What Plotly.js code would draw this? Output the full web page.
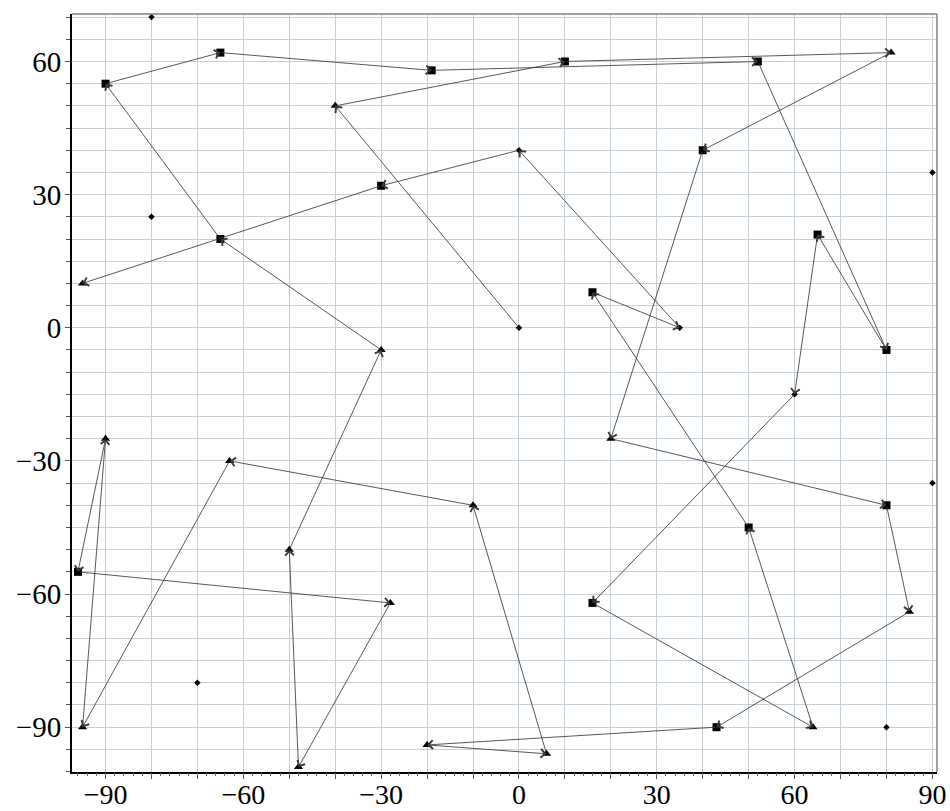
<!DOCTYPE html>
<html>
<head>
<meta charset="utf-8">
<script src="https://cdn.plot.ly/plotly-3.0.1.min.js"></script>
<style>html,body{margin:0;padding:0;background:#fff;}#chart{width:950px;height:811px;}</style>
</head>
<body>
<div id="chart"></div>
<script>
// Path of the walk: node coordinates in visiting order
var pathX = [0, -40, 10, 81, 40, 20, 80, 85, 43, -20, 6, -10, -63, -95, -90, -96, -28, -48, -50, -30, -65, -90, -65, -19, 52, 80, 65, 60, 16, 64, 50, 16, 35, 0, -30, -95];
var pathY = [0, 50, 60, 62, 40, -25, -40, -64, -90, -94, -96, -40, -30, -90, -25, -55, -62, -99, -50, -5, 20, 55, 62, 58, 60, -5, 21, -15, -62, -90, -45, 8, 0, 40, 32, 10];
var pathKind = ["diamond", "triangle", "square", "triangle", "square", "triangle", "square", "triangle", "square", "triangle",
                "triangle", "triangle", "triangle", "triangle", "triangle", "square", "triangle", "triangle", "triangle", "triangle",
                "square", "square", "square", "square", "square", "square", "square", "diamond", "square", "triangle",
                "square", "square", "diamond", "diamond", "square", "triangle"];
// Isolated points
var loneX = [-80, -80, 90, 90, -70, 80];
var loneY = [70, 25, 35, -35, -80, -90];

var xTicks = [-90, -60, -30, 0, 30, 60, 90];
var yTicks = [-90, -60, -30, 0, 30, 60];

var symMap = {square: "square", triangle: "triangle-up", diamond: "diamond"};
var sizeMap = {square: 8, triangle: 8, diamond: 5};

var traces = [];
["square", "triangle", "diamond"].forEach(function (k) {
  var xs = [], ys = [];
  for (var i = 0; i < pathX.length; i++) {
    if (pathKind[i] === k) { xs.push(pathX[i]); ys.push(pathY[i]); }
  }
  if (k === "diamond") { xs = xs.concat(loneX); ys = ys.concat(loneY); }
  traces.push({
    x: xs, y: ys, type: "scatter", mode: "markers", hoverinfo: "skip",
    marker: {symbol: symMap[k], size: sizeMap[k], color: "#000", line: {width: 0}},
    showlegend: false
  });
});
// invisible trace for overlay axis
traces.push({x: [0], y: [0], xaxis: "x2", yaxis: "y", mode: "markers", marker: {opacity: 0}, hoverinfo: "skip", showlegend: false});

var annotations = [];
for (var i = 1; i < pathX.length; i++) {
  annotations.push({
    x: pathX[i], y: pathY[i], ax: pathX[i - 1], ay: pathY[i - 1],
    xref: "x", yref: "y", axref: "x", ayref: "y",
    text: "", showarrow: true, arrowhead: 4, arrowsize: 2.0, arrowwidth: 0.85,
    arrowcolor: "#3a3a3a", standoff: 0
  });
}

var xr = [-97.3, 91.0], yr = [-100.1, 70.7];
var gridC = "#c6cfd8";
function fmt(v) { return v < 0 ? "\u2212" + Math.abs(v) : String(v); }

var layout = {
  width: 950, height: 811,
  margin: {l: 72, r: 13, t: 14, b: 39},
  paper_bgcolor: "#fff", plot_bgcolor: "#fff",
  showlegend: false,
  font: {family: "Liberation Serif", size: 29, color: "#000"},
  xaxis: {
    range: xr, tickvals: xTicks, ticktext: xTicks.map(fmt),
    showgrid: true, gridcolor: gridC, gridwidth: 1,
    minor: {dtick: 10, tick0: 0, showgrid: true, gridcolor: gridC, gridwidth: 1, ticks: "outside", ticklen: 5, tickcolor: "#555"},
    ticks: "outside", ticklen: 5, tickcolor: "#555",
    showline: true, linecolor: "#000", linewidth: 2, zeroline: false,
    tickfont: {family: "Liberation Serif", size: 28, color: "#000"}, ticklabelstandoff: -9, fixedrange: true
  },
  xaxis2: {
    range: xr, overlaying: "x", anchor: "y", side: "bottom",
    dtick: 2, tick0: 0, ticks: "outside", ticklen: 3, tickcolor: "#666",
    showticklabels: false, showgrid: false, zeroline: false, showline: false
  },
  yaxis: {
    range: yr, tickvals: yTicks, ticktext: yTicks.map(fmt),
    showgrid: true, gridcolor: gridC, gridwidth: 1,
    minor: {dtick: 5, tick0: 0, showgrid: true, gridcolor: gridC, gridwidth: 1, ticks: "outside", ticklen: 4, tickcolor: "#555"},
    ticks: "outside", ticklen: 5, tickcolor: "#555",
    showline: true, linecolor: "#000", linewidth: 2, zeroline: false,
    tickfont: {family: "Liberation Serif", size: 29, color: "#000"}, ticklabelstandoff: -2, fixedrange: true
  },
  shapes: [
    {type: "line", xref: "paper", yref: "paper", x0: 0, x1: 1, y0: 1, y1: 1, line: {color: "#808080", width: 1.5}},
    {type: "line", xref: "paper", yref: "paper", x0: 1, x1: 1, y0: 0, y1: 1, line: {color: "#808080", width: 1.5}}
  ],
  annotations: annotations
};

Plotly.newPlot("chart", traces, layout, {staticPlot: true, displayModeBar: false});
</script>
</body>
</html>
